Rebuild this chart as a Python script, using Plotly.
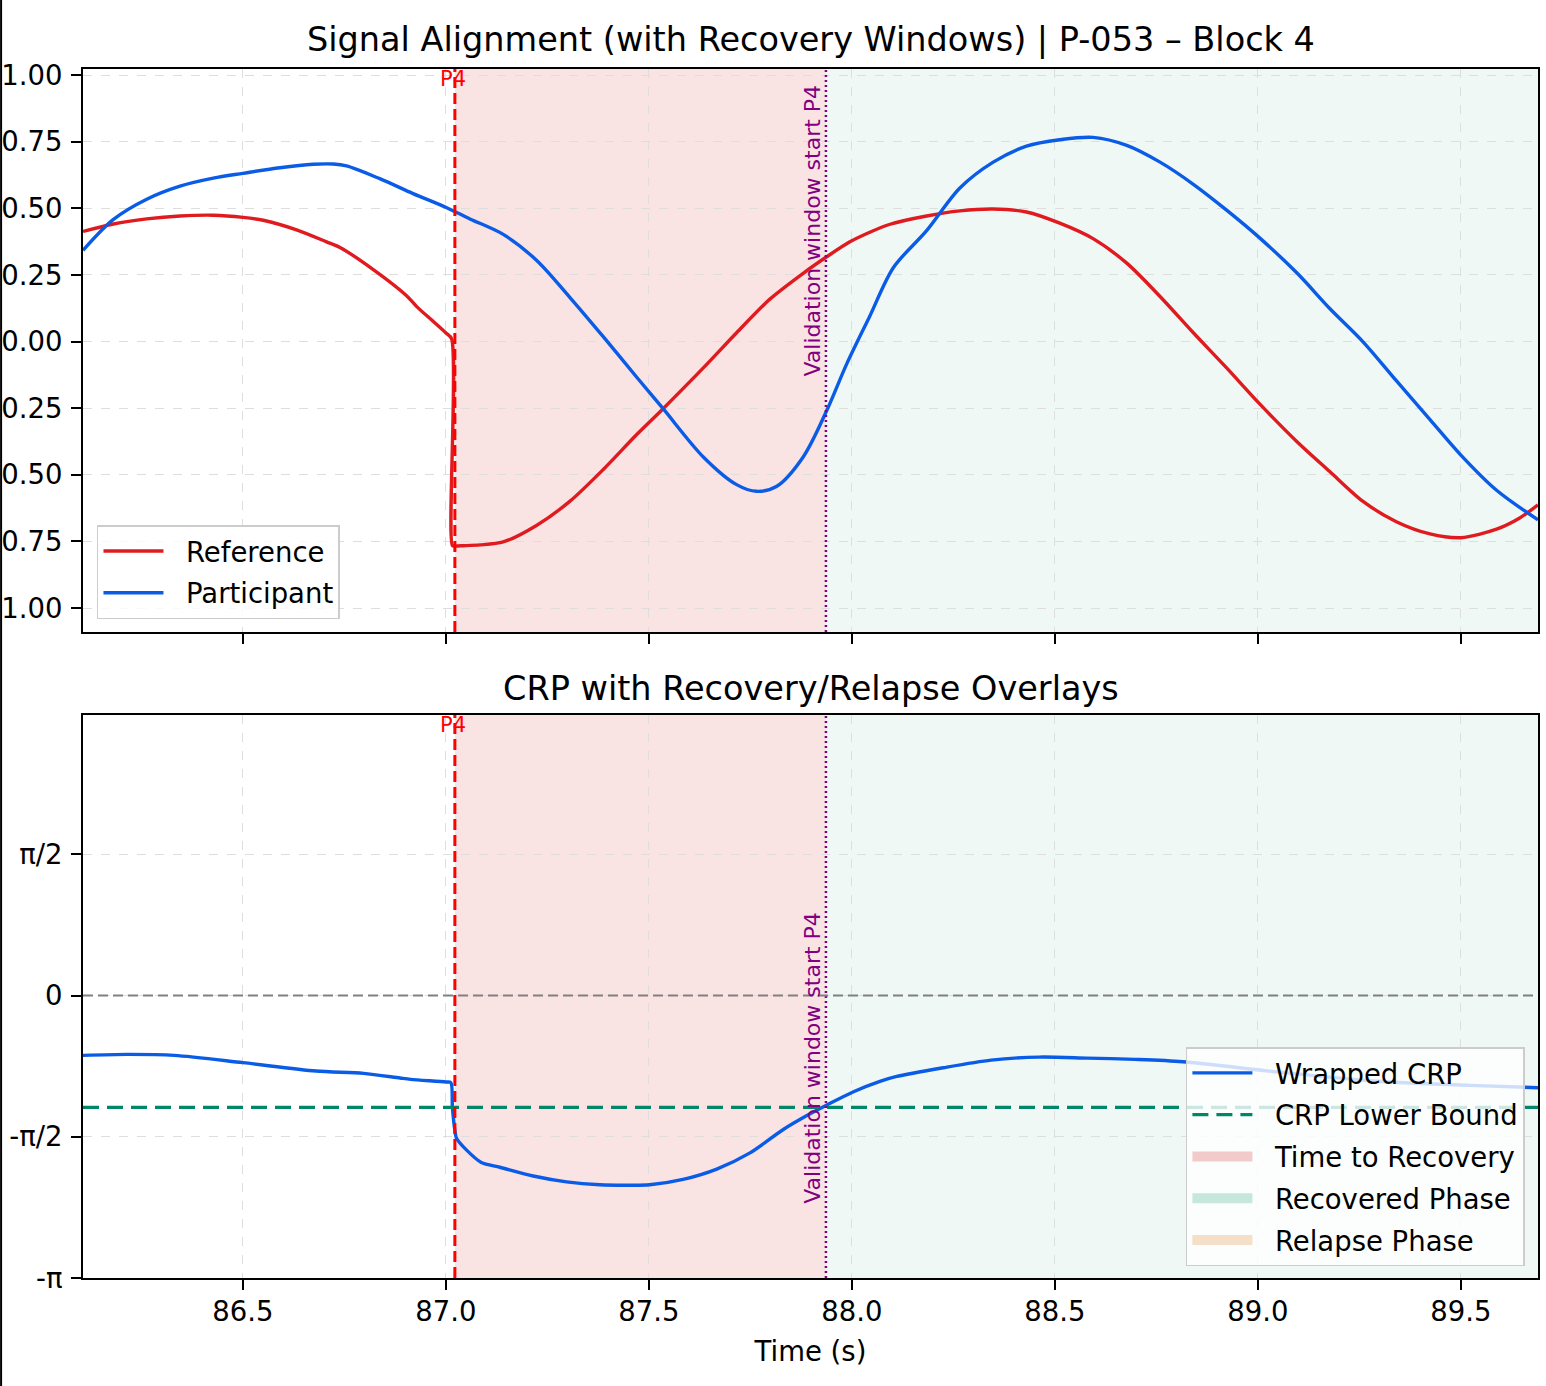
import plotly.graph_objects as go

# ---------------- data ----------------
t_ref = [86.106, 86.181, 86.263, 86.345, 86.427, 86.500, 86.550, 86.632, 86.706, 86.739,
         86.821, 86.903, 86.928, 86.969, 87.000, 87.014, 87.016, 87.022, 87.043, 87.084,
         87.141, 87.223, 87.305, 87.387, 87.470, 87.535, 87.634, 87.716, 87.798, 87.880,
         87.938, 87.995, 88.044, 88.094, 88.184, 88.266, 88.348, 88.430, 88.512, 88.594,
         88.677, 88.759, 88.841, 88.923, 89.005, 89.097, 89.177, 89.259, 89.341, 89.424,
         89.500, 89.588, 89.645, 89.690]
ref_vals = [0.413, 0.441, 0.460, 0.471, 0.474, 0.466, 0.455, 0.419, 0.374, 0.353,
            0.270, 0.172, 0.131, 0.075, 0.032, 0.010, -0.766, -0.767, -0.766, -0.763,
            -0.752, -0.690, -0.600, -0.481, -0.349, -0.252, -0.099, 0.033, 0.159, 0.256,
            0.318, 0.374, 0.410, 0.440, 0.471, 0.490, 0.497, 0.486, 0.444, 0.386,
            0.294, 0.169, 0.033, -0.099, -0.235, -0.377, -0.488, -0.600, -0.676, -0.722,
            -0.736, -0.704, -0.662, -0.613]

t_par = [86.106, 86.181, 86.263, 86.345, 86.427, 86.500, 86.591, 86.673, 86.722, 86.755,
         86.837, 86.919, 87.002, 87.059, 87.141, 87.223, 87.305, 87.387, 87.470, 87.535,
         87.634, 87.716, 87.765, 87.814, 87.880, 87.938, 87.987, 88.044, 88.102, 88.184,
         88.266, 88.348, 88.430, 88.512, 88.594, 88.677, 88.759, 88.841, 88.923, 89.005,
         89.097, 89.177, 89.259, 89.341, 89.424, 89.500, 89.588, 89.690]
par_vals = [0.342, 0.458, 0.534, 0.583, 0.613, 0.631, 0.652, 0.665, 0.666, 0.659,
            0.611, 0.555, 0.502, 0.460, 0.402, 0.305, 0.166, 0.019, -0.134, -0.252,
            -0.433, -0.537, -0.562, -0.544, -0.433, -0.259, -0.085, 0.095, 0.277, 0.416,
            0.576, 0.673, 0.733, 0.757, 0.766, 0.736, 0.673, 0.590, 0.493, 0.388,
            0.256, 0.124, -0.001, -0.147, -0.293, -0.426, -0.558, -0.669]

t_crp = [86.106, 86.215, 86.331, 86.500, 86.680, 86.797, 86.887, 86.913, 87.000, 87.012,
         87.016, 87.022, 87.026, 87.051, 87.087, 87.133, 87.215, 87.297, 87.379, 87.450,
         87.502, 87.584, 87.667, 87.749, 87.831, 87.888, 87.936, 88.004, 88.069, 88.108,
         88.225, 88.343, 88.461, 88.579, 88.697, 88.815, 89.050, 89.286, 89.522, 89.690]
crp_vals = [-0.666, -0.655, -0.666, -0.747, -0.840, -0.866, -0.918, -0.932, -0.962, -0.969,
            -1.250, -1.500, -1.587, -1.720, -1.857, -1.910, -2.007, -2.072, -2.105, -2.110,
            -2.105, -2.045, -1.930, -1.750, -1.490, -1.338, -1.223, -1.070, -0.955, -0.903,
            -0.803, -0.718, -0.685, -0.696, -0.710, -0.736, -0.851, -0.951, -0.999, -1.025]

event_time = 87.022          # P4 perturbation
validation_start = 87.936    # Validation window start P4
crp_lower_bound = -1.243
x_range = [86.106, 89.690]
top_y_range = [-1.09, 1.0225]
bottom_y_range = [-3.14159, 3.12]

top_ticks = [-1.0, -0.75, -0.5, -0.25, 0.0, 0.25, 0.5, 0.75, 1.0]
top_tick_text = [("\u2212" if v < 0 else "") + f"{abs(v):.2f}" for v in top_ticks]
crp_ticks = [-3.14159265, -1.5707963, 0.0, 1.5707963]
crp_tick_text = ["-\u03c0", "-\u03c0/2", "0", "\u03c0/2"]
x_ticks = [86.5, 87.0, 87.5, 88.0, 88.5, 89.0, 89.5]

phase_names = ["Time to Recovery", "Recovered Phase", "Relapse Phase"]

# ---------------- styling ----------------
FONT = "DejaVu Sans"
RED = "#e01b1f"
BLUE = "#0a5ce6"
GREEN_LINE = "#00876a"
PINK_REGION = "rgba(214,39,40,0.13)"
GREEN_REGION = "rgba(27,158,119,0.07)"
PHASE_PATCH = ["rgba(214,39,40,0.24)", "rgba(27,158,119,0.24)", "rgba(230,126,34,0.24)"]
LW = 3.4
FS = 27.5
GAP = "\u00a0\u00a0"

fig = go.Figure()

# top panel traces
fig.add_trace(go.Scatter(x=t_ref, y=ref_vals, mode="lines", name=GAP + "Reference",
                         legendgroup="a",
                         line=dict(color=RED, width=LW, shape="spline", smoothing=0.8),
                         xaxis="x", yaxis="y", legend="legend"))
fig.add_trace(go.Scatter(x=t_par, y=par_vals, mode="lines", name=GAP + "Participant",
                         legendgroup="b",
                         line=dict(color=BLUE, width=LW, shape="spline", smoothing=0.9),
                         xaxis="x", yaxis="y", legend="legend"))

# bottom panel traces
fig.add_trace(go.Scatter(x=t_crp, y=crp_vals, mode="lines", name=GAP + "Wrapped CRP",
                         legendgroup="c",
                         line=dict(color=BLUE, width=LW, shape="spline", smoothing=0.8),
                         xaxis="x2", yaxis="y2", legend="legend2"))
fig.add_trace(go.Scatter(x=x_range, y=[crp_lower_bound, crp_lower_bound], mode="lines",
                         name=GAP + "CRP Lower Bound", legendgroup="d",
                         line=dict(color=GREEN_LINE, width=3.2, dash="16px,8px"),
                         xaxis="x2", yaxis="y2", legend="legend2"))
# legend-only entries for the phase patches
for i, (nm, col) in enumerate(zip(phase_names, PHASE_PATCH)):
    fig.add_trace(go.Scatter(x=[None], y=[None], mode="lines", name=GAP + nm,
                             legendgroup="p%d" % i,
                             line=dict(color=col, width=18),
                             xaxis="x2", yaxis="y2", legend="legend2"))

shapes = []
for xr, yr in [("x", "y"), ("x2", "y2")]:
    ydom = "y domain" if yr == "y" else "y2 domain"
    shapes.append(dict(type="rect", xref=xr, yref=ydom, x0=event_time, x1=validation_start,
                       y0=0, y1=1, fillcolor=PINK_REGION, line=dict(width=0), layer="below"))
    shapes.append(dict(type="rect", xref=xr, yref=ydom, x0=validation_start, x1=x_range[1],
                       y0=0, y1=1, fillcolor=GREEN_REGION, line=dict(width=0), layer="below"))
    shapes.append(dict(type="line", xref=xr, yref=ydom, x0=event_time, x1=event_time,
                       y0=0, y1=1, line=dict(color="#ff0000", width=3, dash="11px,5px")))
    shapes.append(dict(type="line", xref=xr, yref=ydom, x0=validation_start,
                       x1=validation_start, y0=0, y1=1,
                       line=dict(color="#800080", width=2.5, dash="2px,3px")))
# zero line in CRP panel
shapes.append(dict(type="line", xref="x2 domain", yref="y2", x0=0, x1=1, y0=0, y1=0,
                   line=dict(color="#808080", width=2.2, dash="10px,5px")))
# left page border seen in the reference
shapes.append(dict(type="line", xref="paper", yref="paper", x0=-0.0563, x1=-0.0563,
                   y0=-0.1, y1=1.07, line=dict(color="black", width=2)))

annotations = [
    dict(text="Signal Alignment (with Recovery Windows) | P-053 \u2013 Block 4",
         xref="paper", yref="paper", x=0.5, y=1.024, xanchor="center", yanchor="middle",
         showarrow=False, font=dict(family=FONT, size=33.5, color="black")),
    dict(text="CRP with Recovery/Relapse Overlays",
         xref="paper", yref="paper", x=0.5, y=0.488, xanchor="center", yanchor="middle",
         showarrow=False, font=dict(family=FONT, size=33.5, color="black")),
]
for xr, ydom, ytop in [("x", "y domain", 0.975), ("x2", "y2 domain", 0.653)]:
    annotations.append(dict(text="P4", xref=xr, yref=ydom, x=event_time, y=1.0,
                            xanchor="center", yanchor="top", showarrow=False, borderpad=0,
                            xshift=-2, yshift=3,
                            font=dict(family=FONT, size=21, color="#ff0000")))
    annotations.append(dict(text="Validation window start P4", xref=xr, yref=ydom,
                            x=validation_start, y=ytop, xanchor="right", yanchor="top",
                            textangle=-90, showarrow=False, borderpad=0,
                            font=dict(family=FONT, size=22, color="#800080")))

axis_common = dict(showline=True, linecolor="black", linewidth=2, mirror=True,
                   ticks="outside", ticklen=10, tickwidth=2, tickcolor="black",
                   showgrid=True, gridcolor="#dedede", gridwidth=1.3, griddash="dash",
                   zeroline=False, automargin=False,
                   tickfont=dict(family=FONT, size=FS, color="black"))

legend_common = dict(bgcolor="rgba(255,255,255,0.8)", bordercolor="#cccccc", borderwidth=1.5,
                     font=dict(family=FONT, size=FS, color="black"), itemwidth=60,
                     tracegroupgap=3)

fig.update_layout(
    width=1546, height=1386,
    margin=dict(l=83, r=8, t=69, b=108, pad=0),
    paper_bgcolor="white", plot_bgcolor="white",
    template="none",
    showlegend=True,
    font=dict(family=FONT, color="black"),
    xaxis=dict(domain=[0, 1], anchor="y", range=x_range, tickvals=x_ticks,
               showticklabels=False, **axis_common),
    yaxis=dict(domain=[0.5343, 1], anchor="x", range=top_y_range, tickvals=top_ticks,
               ticktext=top_tick_text, ticklabelstandoff=3, **axis_common),
    xaxis2=dict(domain=[0, 1], anchor="y2", range=x_range, tickvals=x_ticks,
                ticktext=[f"{v:.1f}" for v in x_ticks], matches="x",
                ticklabelstandoff=-2,
                title=dict(text="Time (s)", font=dict(family=FONT, size=FS), standoff=16),
                **axis_common),
    yaxis2=dict(domain=[0, 0.4657], anchor="x2", range=bottom_y_range, tickvals=crp_ticks,
                ticktext=crp_tick_text, ticklabelstandoff=3, **axis_common),
    legend=dict(x=0.0096, y=0.545, xanchor="left", yanchor="bottom", **legend_common),
    legend2=dict(x=0.991, y=0.0099, xanchor="right", yanchor="bottom", **legend_common),
    shapes=shapes,
    annotations=annotations,
)

fig.write_html("out.html")
